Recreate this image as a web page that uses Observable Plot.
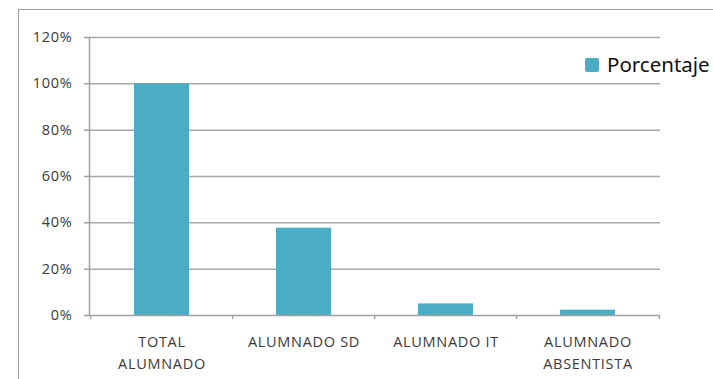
<!DOCTYPE html>
<html>
<head>
<meta charset="utf-8">
<script src="https://cdn.jsdelivr.net/npm/d3@7"></script>
<script src="https://cdn.jsdelivr.net/npm/@observablehq/plot@0.6"></script>
<style>
  html, body { margin: 0; padding: 0; background: #fff; }
  #wrap { position: relative; width: 713px; height: 379px; overflow: hidden; }
  #frame { position: absolute; left: 18px; top: 9px; width: 800px; height: 500px;
           border-top: 1.5px solid #a0a0a0; border-left: 1.5px solid #a0a0a0; box-sizing: border-box; }
  #chart { position: absolute; left: 0; top: 0; }
  #chart svg text { letter-spacing: 0.7px; }
  #legend { position: absolute; left: 585px; top: 54px; height: 20px; font-family: "Noto Sans", sans-serif;
            font-size: 20.5px; line-height: 20px; color: #111; white-space: nowrap; }
  #legend .sw { position: absolute; left: 0; top: 4px; width: 14px; height: 14px; border-radius: 2px; }
  #legend .lbl { position: absolute; left: 22px; top: 0; }
</style>
</head>
<body>
<div id="wrap">
  <div id="frame"></div>
  <div id="chart"></div>
  <div id="legend"><span class="sw"></span><span class="lbl"></span></div>
</div>
<script>
const categories = ["TOTAL ALUMNADO", "ALUMNADO SD", "ALUMNADO IT", "ALUMNADO ABSENTISTA"];
const tickLabels = ["TOTAL\nALUMNADO", "ALUMNADO SD", "ALUMNADO IT", "ALUMNADO\nABSENTISTA"];
const values = [1.00, 0.377, 0.050, 0.023];
const yTicks = [0, 0.2, 0.4, 0.6, 0.8, 1.0, 1.2];
const seriesName = "Porcentaje";
const barColor = "#4BACC6";

const data = categories.map((c, i) => ({category: c, value: values[i]}));
const labelOf = new Map(categories.map((c, i) => [c, tickLabels[i]]));
const W = 713, H = 379, mL = 89, mR = 53;
const step = (W - mL - mR) / categories.length;

const chart = Plot.plot({
  width: W,
  height: H,
  marginLeft: mL,
  marginRight: mR,
  marginTop: 37,
  marginBottom: 64,
  style: {fontFamily: "'Open Sans', sans-serif", fontSize: "14.5px", color: "#333", background: "transparent"},
  x: {domain: categories, paddingInner: 0.61, paddingOuter: 0.305},
  y: {domain: [0, 1.2]},
  marks: [
    Plot.ruleY(yTicks.filter(d => d > 0), {stroke: "#a8a8a8", strokeWidth: 1.5, strokeOpacity: 1}),
    Plot.barY(data, {x: "category", y: "value", fill: barColor}),
    Plot.ruleY([0], {stroke: "#a0a0a0", strokeWidth: 1.5}),
    Plot.frame({anchor: "left", stroke: "#a0a0a0", strokeWidth: 1.5}),
    Plot.ruleX(categories, {x: d => d, y1: 0, y2: 0, insetBottom: -4, dx: -step / 2, stroke: "#a0a0a0", strokeWidth: 1.5}),
    Plot.ruleX(categories.slice(-1), {x: d => d, y1: 0, y2: 0, insetBottom: -4, dx: step / 2, stroke: "#a0a0a0", strokeWidth: 1.5}),
    Plot.axisY({ticks: yTicks, tickFormat: d3.format(".0%"), tickSize: 5, tickPadding: 12,
                stroke: "#a0a0a0", strokeWidth: 1.5, strokeOpacity: 1, fill: "#3a3a3a", label: null}),
    Plot.axisX({tickSize: 0, tickPadding: 16, tickFormat: d => labelOf.get(d), lineHeight: 1.52,
                fill: "#3a3a3a", label: null})
  ]
});
document.getElementById("chart").appendChild(chart);
document.querySelector("#legend .sw").style.background = barColor;
document.querySelector("#legend .lbl").textContent = seriesName;
</script>
</body>
</html>
